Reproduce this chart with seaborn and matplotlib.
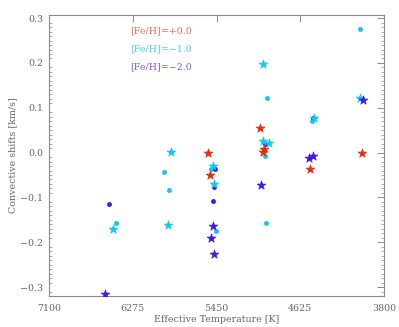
import matplotlib
matplotlib.use("Agg")
import matplotlib.pyplot as plt
import seaborn as sns
import pandas as pd
from matplotlib.ticker import MultipleLocator, FixedLocator

# ---- data ----
red_star_T = [5535, 5512, 5020, 4983, 4996, 4527, 4015]
red_star_v = [0.000, -0.050, 0.054, 0.007, 0.001, -0.037, 0.000]

cyan_star_T = [6467, 5928, 5896, 5485, 5478, 4996, 4990, 4931, 4491, 4035]
cyan_star_v = [-0.170, -0.161, 0.002, -0.029, -0.070, 0.198, 0.026, 0.022, 0.077, 0.122]

cyan_dot_T = [6443, 5968, 5914, 5508, 5453, 4976, 4967, 4957, 4509, 4038]
cyan_dot_v = [-0.158, -0.043, -0.084, -0.036, -0.175, -0.007, -0.157, 0.122, 0.071, 0.276]

blue_star_T = [6544, 5508, 5483, 5476, 5016, 4535, 4499, 4004]
blue_star_v = [-0.315, -0.190, -0.163, -0.227, -0.072, -0.011, -0.007, 0.118]

blue_dot_T = [6509, 5485, 5473, 5466, 4976, 4503]
blue_dot_v = [-0.114, -0.109, -0.076, -0.036, 0.020, 0.077]

legend_labels = ["[Fe/H]=+0.0", "[Fe/H]=\u22121.0", "[Fe/H]=\u22122.0"]
x_ticks = [7100, 6275, 5450, 4625, 3800]
y_ticks = [-0.3, -0.2, -0.1, 0.0, 0.1, 0.2, 0.3]

RED = "#e62a10"
CYAN = "#10c8f8"
BLUE = "#4418e0"
LEG = ["#ff6a50", "#44d4ff", "#7a5cf0"]
GREY = "#8a8a8a"
TXT = "#666666"

sns.set_style("white")
plt.rcParams['font.family'] = ['DejaVu Serif']

fig = plt.figure(figsize=(3.99, 3.27), dpi=100)
ax = fig.add_axes([49/399, 1-296/327, 335/399, 281/327])

def scat(T, v, color, marker, size):
    df = pd.DataFrame({"T": T, "v": v})
    sns.scatterplot(data=df, x="T", y="v", ax=ax, color=color, marker=marker,
                    s=size, edgecolor=color, linewidth=0.5, zorder=3)

scat(cyan_dot_T, cyan_dot_v, CYAN, "o", 9)
scat(blue_dot_T, blue_dot_v, BLUE, "o", 9)
scat(red_star_T, red_star_v, RED, "*", 44)
scat(cyan_star_T, cyan_star_v, CYAN, "*", 44)
scat(blue_star_T, blue_star_v, BLUE, "*", 44)

ax.set_xlim(7100, 3800)
ax.set_ylim(-0.32, 0.307)
ax.xaxis.set_major_locator(FixedLocator(x_ticks))
ax.set_xticklabels([str(t) for t in x_ticks])
ax.yaxis.set_major_locator(FixedLocator(y_ticks))
ax.set_yticklabels([("%.1f" % t).replace("-", "\u2212") for t in y_ticks])
ax.yaxis.set_minor_locator(MultipleLocator(0.01))

ax.tick_params(axis="both", which="major", direction="in", length=5, width=0.7,
               color=GREY, labelcolor=TXT, labelsize=6.8, top=True, right=True,
               labelright=False, labeltop=False)
ax.tick_params(axis="x", which="major", pad=6)
ax.tick_params(axis="y", which="major", pad=4)
ax.tick_params(axis="y", which="minor", direction="in", length=2.5, width=0.5,
               color=GREY, left=True, right=True)
for sp in ax.spines.values():
    sp.set_color(GREY)
    sp.set_linewidth(0.8)

ax.set_xlabel("Effective Temperature [K]", fontsize=6.8, color=TXT, labelpad=1)
ax.set_ylabel("Convective shifts [km/s]", fontsize=6.8, color=TXT, labelpad=2)

for i, (lab, c) in enumerate(zip(legend_labels, LEG)):
    ax.text(0.242, 0.943 - i*0.064, lab, transform=ax.transAxes, color=c,
            fontsize=6.8, va="center", ha="left")

fig.savefig("out.png", dpi=100)
